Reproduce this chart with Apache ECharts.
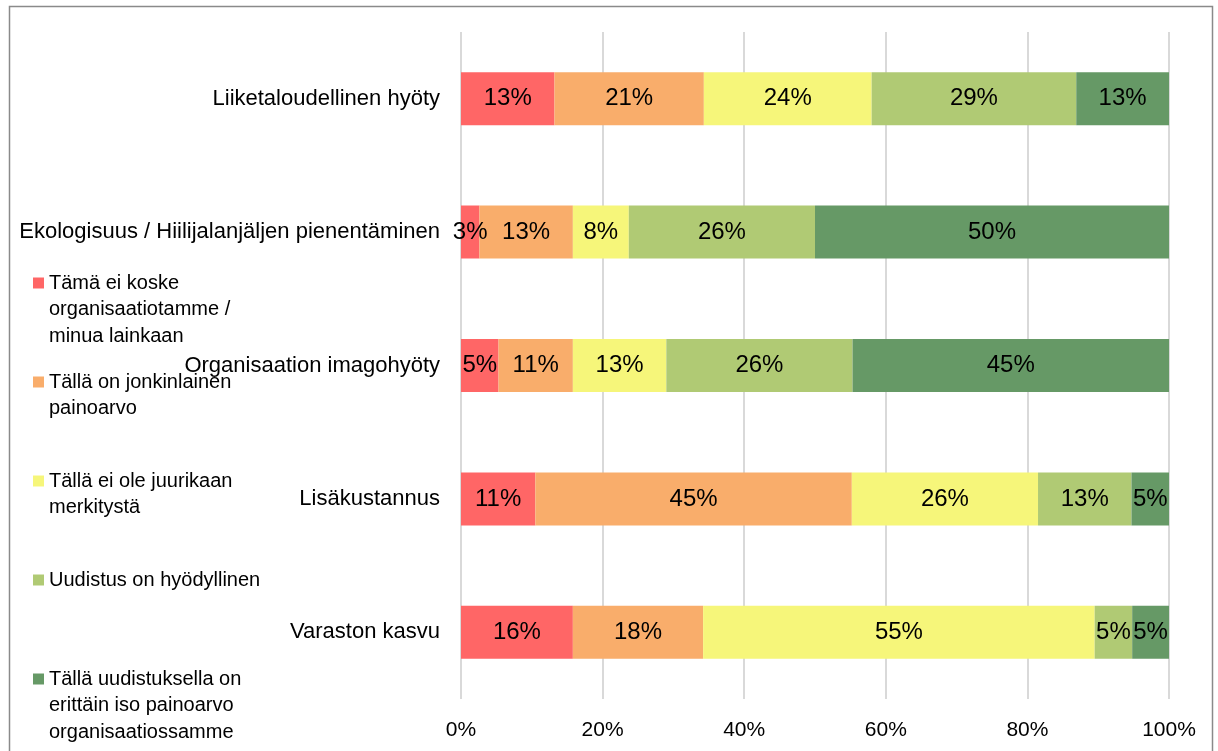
<!DOCTYPE html>
<html>
<head>
<meta charset="utf-8">
<script src="https://cdn.jsdelivr.net/npm/echarts@6/dist/echarts.min.js"></script>
<style>html,body{margin:0;padding:0;background:#fff}#c{width:1218px;height:751px}</style>
</head>
<body>
<div id="c"></div>
<script>
const categories = [
  "Liiketaloudellinen hyöty",
  "Ekologisuus / Hiilijalanjäljen pienentäminen",
  "Organisaation imagohyöty",
  "Lisäkustannus",
  "Varaston kasvu"
];
const seriesNames = [
  "Tämä ei koske organisaatiotamme / minua lainkaan",
  "Tällä on jonkinlainen painoarvo",
  "Tällä ei ole juurikaan merkitystä",
  "Uudistus on hyödyllinen",
  "Tällä uudistuksella on erittäin iso painoarvo organisaatiossamme"
];
const legendLines = [
  ["Tämä ei koske", "organisaatiotamme /", "minua lainkaan"],
  ["Tällä on jonkinlainen", "painoarvo"],
  ["Tällä ei ole juurikaan", "merkitystä"],
  ["Uudistus on hyödyllinen"],
  ["Tällä uudistuksella on", "erittäin iso painoarvo", "organisaatiossamme"]
];
const notRelevant   = [13.2, 2.6, 5.3, 10.5, 15.8];
const someWeight    = [21.1, 13.2, 10.5, 44.7, 18.4];
const littleMeaning = [23.7, 7.9, 13.2, 26.3, 55.3];
const useful        = [28.9, 26.3, 26.3, 13.2, 5.3];
const veryImportant = [13.2, 50.0, 44.7, 5.3, 5.3];
const seriesValues = [notRelevant, someWeight, littleMeaning, useful, veryImportant];
const colors = ["#FF6666", "#F9AD6B", "#F6F67A", "#B0CA74", "#669966"];
const xTicks = [0, 20, 40, 60, 80, 100];

const FONT = "'Liberation Sans', Arial, sans-serif";
const LH = 26.5;
const legendFirstLineY = [283, 382, 481, 580, 679];

const legends = seriesNames.map((name, i) => {
  const n = legendLines[i].length;
  return {
    data: [name],
    orient: 'vertical',
    left: 33,
    top: legendFirstLineY[i] - (2 * n - 1) * LH / 2,
    padding: 0,
    itemWidth: 11,
    itemHeight: 11,
    icon: 'rect',
    selectedMode: false,
    formatter: () => '\n'.repeat(n - 1) + legendLines[i].join('\n'),
    textStyle: { fontFamily: FONT, fontSize: 20, color: '#000', lineHeight: LH }
  };
});

const chart = echarts.init(document.getElementById('c'));
chart.setOption({
  animation: false,
  backgroundColor: '#fff',
  color: colors,
  graphic: [{
    type: 'rect', silent: true, z: 100,
    shape: { x: 9.5, y: 6.5, width: 1203, height: 800 },
    style: { fill: 'none', stroke: '#8a8a8a', lineWidth: 1.5 }
  }],
  legend: legends,
  grid: { left: 461, right: 49, top: 32, bottom: 52, containLabel: false },
  xAxis: {
    type: 'value', min: xTicks[0], max: xTicks[xTicks.length - 1], interval: 20,
    axisLine: { show: false }, axisTick: { show: false },
    splitLine: { show: true, lineStyle: { color: '#d9d9d9', width: 2 } },
    axisLabel: { formatter: '{value}%', fontFamily: FONT, fontSize: 21, color: '#000', margin: 21 }
  },
  yAxis: {
    type: 'category', data: categories, inverse: true,
    axisLine: { show: false }, axisTick: { show: false },
    axisLabel: { fontFamily: FONT, fontSize: 22, color: '#000', margin: 21 }
  },
  series: seriesNames.map((name, i) => ({
    name, type: 'bar', stack: 'total', barWidth: 53,
    data: seriesValues[i],
    itemStyle: { color: colors[i] },
    label: {
      show: true, position: 'inside', color: '#000', fontFamily: FONT, fontSize: 24,
      textBorderWidth: 0,
      formatter: p => Math.round(p.value) + '%'
    }
  }))
});
</script>
</body>
</html>
